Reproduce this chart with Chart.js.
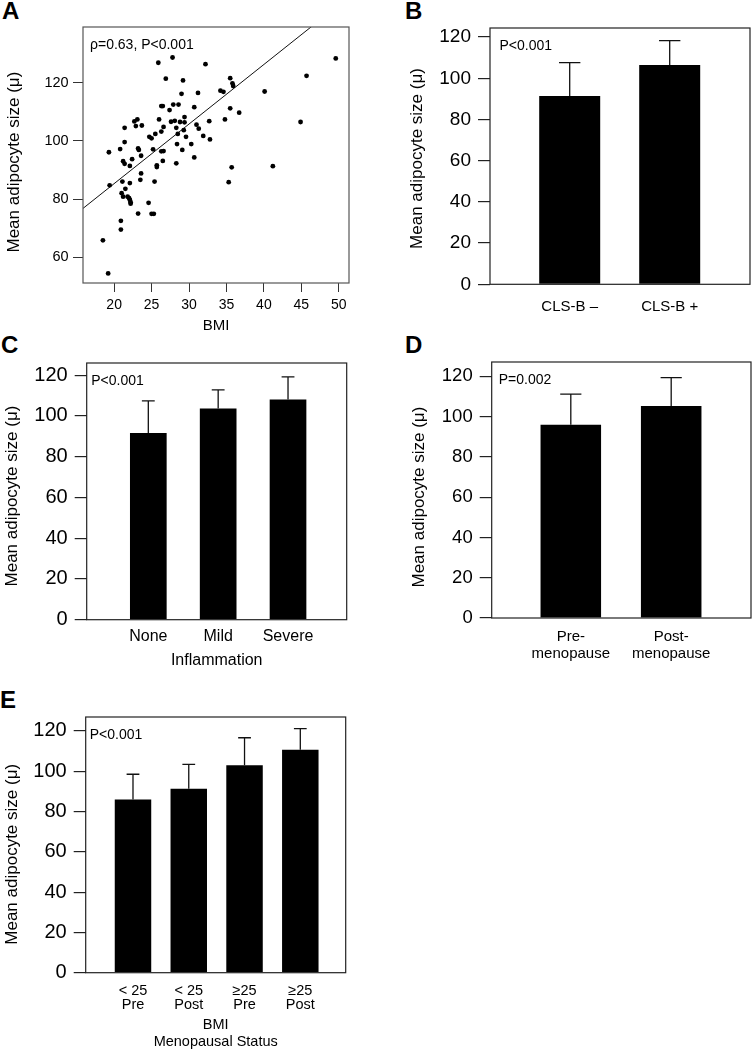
<!DOCTYPE html>
<html>
<head>
<meta charset="utf-8">
<script src="https://cdn.jsdelivr.net/npm/chart.js@4.4.1/dist/chart.umd.min.js"></script>
<style>
  body { margin: 0; background: #fff; width: 752px; height: 1050px; position: relative; overflow: hidden; }
  canvas { position: absolute; }
  .tag { position: absolute; font: bold 24px/24px 'Liberation Sans', Arial, sans-serif; color: #000; }
</style>
</head>
<body>
<div class="tag" style="left:2px;top:-1px">A</div>
<div class="tag" style="left:405px;top:-1px">B</div>
<div class="tag" style="left:1px;top:333px">C</div>
<div class="tag" style="left:405px;top:333px">D</div>
<div class="tag" style="left:0px;top:688px">E</div>

<canvas id="chartA" width="353" height="330" style="left:0;top:5px"></canvas>
<canvas id="chartB" width="347" height="313" style="left:405px;top:6px"></canvas>
<canvas id="chartC" width="350" height="329" style="left:0;top:341px"></canvas>
<canvas id="chartD" width="345" height="326" style="left:407px;top:340px"></canvas>
<canvas id="chartE" width="349" height="355" style="left:0;top:695px"></canvas>

<script>
// ---- data ----
const yTitle = 'Mean adipocyte size (μ)';

// panel A: BMI vs mean adipocyte size
const bmiA = [18.5, 19.2, 19.3, 19.4, 20.8, 21.1, 21.2, 21.4, 21.4, 21.4, 21.5, 21.0, 21.2, 20.9, 20.9, 21.8,
  22.0, 22.1, 22.2, 22.2, 22.1, 22.1, 22.4, 22.7, 23.1, 22.9, 23.7, 23.2, 23.3, 23.6, 23.6, 23.5, 23.2,
  24.6, 25.0, 25.3, 24.7, 25.0, 25.2, 25.5, 25.4, 25.7, 25.7, 25.9, 26.0, 26.3, 26.5, 26.3, 26.6, 26.3,
  26.6, 26.5, 26.9, 27.4, 27.6, 27.9, 28.1, 27.8, 28.3, 28.5, 28.4, 28.3, 28.6, 28.8, 29.0, 29.2, 29.4,
  29.4, 29.3, 29.6, 29.1, 30.3, 30.7, 31.0, 31.3, 31.2, 30.7, 31.9, 32.2, 32.7, 32.8, 34.2, 34.6, 34.8,
  35.3, 35.5, 35.5, 35.7, 35.8, 35.9, 36.7, 40.1, 41.2, 44.9, 45.7, 49.6];
const sizeA = [65.8, 54.4, 96.1, 84.7, 97.2, 86.0, 93.0, 99.6, 104.5, 92.1, 83.5, 82.0, 80.8, 72.5, 69.5, 80.8,
  80.3, 79.7, 78.9, 78.4, 85.5, 91.4, 93.7, 106.7, 107.4, 105.1, 105.3, 97.4, 96.9, 94.9, 88.8, 86.6, 75.0,
  78.7, 74.9, 74.9, 101.4, 100.9, 97.1, 102.4, 86.0, 91.6, 91.0, 126.9, 107.4, 112.0, 112.0, 103.2, 104.8, 96.4,
  96.5, 93.1, 121.4, 110.6, 106.6, 112.5, 106.9, 128.7, 104.5, 102.4, 98.9, 92.3, 112.5, 106.5, 116.2, 120.8, 106.4,
  108.2, 103.7, 101.4, 96.9, 98.9, 111.6, 105.6, 104.2, 116.5, 94.3, 101.7, 126.4, 106.8, 100.5, 117.3, 116.9, 107.4,
  85.8, 111.2, 121.6, 90.9, 119.8, 118.9, 109.7, 117.0, 91.3, 106.5, 122.4, 128.4];
const fitIntercept = 44.3;
const fitSlope = 2.05;
const scatterXTicks = [20, 25, 30, 35, 40, 45, 50];
const scatterYTicks = [60, 80, 100, 120];

// panel B: crown-like structures
const clsLabels = ['CLS-B –', 'CLS-B +'];
const clsMeans = [91.4, 106.5];
const clsUpper = [107.6, 118.3];

// panel C: inflammation
const inflLabels = ['None', 'Mild', 'Severe'];
const inflMeans = [91.7, 103.7, 108.1];
const inflUpper = [107.4, 112.8, 119.2];

// panel D: menopausal status
const menoLabels = [['Pre-', 'menopause'], ['Post-', 'menopause']];
const menoMeans = [95.9, 105.2];
const menoUpper = [111.2, 119.3];

// panel E: BMI x menopausal status
const groupLabels = [['< 25', 'Pre'], ['< 25', 'Post'], ['≥25', 'Pre'], ['≥25', 'Post']];
const groupMeans = [85.9, 91.3, 102.9, 110.7];
const groupUpper = [98.5, 103.4, 116.6, 121.1];

const barTicks = [0, 20, 40, 60, 80, 100, 120];

Chart.defaults.font.family = "'Liberation Sans', Arial, sans-serif";
Chart.defaults.color = '#000';

// box around the plotting area
const frame = {
  id: 'frame',
  afterDatasetsDraw(chart, args, opts) {
    const { ctx, chartArea: a } = chart;
    ctx.save();
    ctx.strokeStyle = opts.color || '#222';
    ctx.lineWidth = 1.2;
    ctx.strokeRect(a.left, a.top, a.right - a.left, a.bottom - a.top);
    ctx.restore();
  }
};

// one-sided (upper) error bars on top of the bars
const errorBars = {
  id: 'errorBars',
  afterDatasetsDraw(chart, args, opts) {
    if (!opts.values) return;
    const ctx = chart.ctx;
    const y = chart.scales.y;
    const meta = chart.getDatasetMeta(0);
    ctx.save();
    ctx.strokeStyle = '#111';
    ctx.lineWidth = 1.3;
    meta.data.forEach(function (bar, i) {
      const top = y.getPixelForValue(opts.values[i]);
      const half = bar.width * opts.cap / 2;
      ctx.beginPath();
      ctx.moveTo(bar.x, bar.y);
      ctx.lineTo(bar.x, top);
      ctx.moveTo(bar.x - half, top);
      ctx.lineTo(bar.x + half, top);
      ctx.stroke();
    });
    ctx.restore();
  }
};

// statistics note in the upper left corner
const note = {
  id: 'note',
  afterDatasetsDraw(chart, args, opts) {
    if (!opts.text) return;
    const { ctx, chartArea: a } = chart;
    ctx.save();
    ctx.font = "14px 'Liberation Sans', Arial, sans-serif";
    ctx.fillStyle = '#000';
    ctx.textBaseline = 'middle';
    ctx.fillText(opts.text, a.left + opts.dx, a.top + 18);
    ctx.restore();
  }
};

// trailing blanks nudge the rotated title a little lower, like the original
function yTitleOpts(pad, nudge) {
  return { display: true, text: yTitle + ' '.repeat(nudge), font: { size: 17 }, padding: { top: pad, bottom: 0 }, color: '#000' };
}

function barPanel(id, o) {
  return new Chart(document.getElementById(id), {
    type: 'bar',
    data: {
      datasets: [{
        data: o.means.map((v, i) => ({ x: i, y: v })),
        backgroundColor: '#000',
        borderWidth: 0,
        categoryPercentage: 1,
        barPercentage: o.barPct
      }]
    },
    options: {
      responsive: false,
      animation: false,
      events: [],
      layout: { padding: { top: 22, right: o.padR, left: 0, bottom: 0 } },
      plugins: {
        legend: { display: false },
        tooltip: { enabled: false },
        errorBars: { values: o.upper, cap: 0.35 },
        note: { text: o.note, dx: o.noteDx },
        frame: { color: '#222' }
      },
      scales: {
        x: {
          type: 'linear',
          offset: false,
          min: o.xMin,
          max: o.xMax,
          afterBuildTicks: s => { s.ticks = o.labels.map((l, i) => ({ value: i })); },
          afterFit: s => { s.height = o.xh; },
          ticks: {
            autoSkip: false,
            maxRotation: 0,
            padding: o.labPad,
            font: { size: o.labSize, lineHeight: o.labLH },
            callback: v => o.labels[v]
          },
          grid: { display: false, drawTicks: false },
          border: { display: false },
          title: o.xTitle
            ? { display: true, text: o.xTitle, font: { size: o.titleSize, lineHeight: o.titleLH }, padding: { top: 0, bottom: 0 } }
            : { display: false }
        },
        y: {
          min: 0,
          max: o.yMax,
          afterBuildTicks: s => { s.ticks = barTicks.map(v => ({ value: v })); },
          afterFit: s => { s.width = o.yw; },
          ticks: { padding: 7, font: { size: o.tickSize } },
          grid: { drawOnChartArea: false, tickLength: 12, color: '#222', lineWidth: 1.2 },
          border: { display: false },
          title: yTitleOpts(2, o.nudge)
        }
      }
    },
    plugins: [errorBars, frame, note]
  });
}

// ---- panel A: scatter with regression line ----
const xMinA = 15.84, xMaxA = 51.37;
new Chart(document.getElementById('chartA'), {
  type: 'scatter',
  data: {
    datasets: [
      {
        data: bmiA.map((b, i) => ({ x: b, y: sizeA[i] })),
        pointRadius: 2.4,
        pointBackgroundColor: '#000',
        pointBorderWidth: 0
      },
      {
        type: 'line',
        showLine: true,
        data: [xMinA, xMaxA].map(x => ({ x: x, y: fitIntercept + fitSlope * x })),
        borderColor: '#111',
        borderWidth: 1,
        pointRadius: 0
      }
    ]
  },
  options: {
    responsive: false,
    animation: false,
    events: [],
    layout: { padding: { top: 22, right: 3, left: 0, bottom: 0 } },
    plugins: {
      legend: { display: false },
      tooltip: { enabled: false },
      note: { text: 'ρ=0.63, P<0.001', dx: 7 },
      frame: { color: '#555' }
    },
    scales: {
      x: {
        min: xMinA,
        max: xMaxA,
        afterBuildTicks: s => { s.ticks = scatterXTicks.map(v => ({ value: v })); },
        afterFit: s => { s.height = 52; },
        ticks: { padding: 4.3, font: { size: 14 } },
        grid: { drawOnChartArea: false, tickLength: 9, color: '#333' },
        border: { display: false },
        title: { display: true, text: 'BMI', font: { size: 15 }, padding: { top: 0, bottom: 0 } }
      },
      y: {
        min: 51.1,
        max: 139.2,
        afterBuildTicks: s => { s.ticks = scatterYTicks.map(v => ({ value: v })); },
        afterFit: s => { s.width = 83; },
        ticks: { padding: 4.4, font: { size: 14.5 } },
        grid: { drawOnChartArea: false, tickLength: 10, color: '#333' },
        border: { display: false },
        title: yTitleOpts(4, 3)
      }
    }
  },
  plugins: [frame, note]
});

// ---- panels B to E: bar charts ----
barPanel('chartB', {
  labels: clsLabels, means: clsMeans, upper: clsUpper,
  xMin: -0.797, xMax: 1.803, barPct: 0.61, yMax: 124.4,
  yw: 85, xh: 34.7, padR: 2, tickSize: 19, nudge: 1,
  labPad: 13.4, labSize: 15, labLH: 1.2,
  note: 'P<0.001', noteDx: 9.5
});

barPanel('chartC', {
  labels: inflLabels, means: inflMeans, upper: inflUpper,
  xMin: -0.882, xMax: 2.84, barPct: 0.525, yMax: 126,
  yw: 86.7, xh: 50.3, padR: 3.3, tickSize: 20, nudge: 2,
  labPad: 7.4, labSize: 16, labLH: 1.2,
  xTitle: 'Inflammation', titleSize: 16, titleLH: 1.2,
  note: 'P<0.001', noteDx: 4.5
});

barPanel('chartD', {
  labels: menoLabels, means: menoMeans, upper: menoUpper,
  xMin: -0.788, xMax: 1.795, barPct: 0.603, yMax: 127.1,
  yw: 84.7, xh: 48, padR: 1, tickSize: 18.5, nudge: 3,
  labPad: 9.9, labSize: 15, labLH: 1.17,
  note: 'P=0.002', noteDx: 7
});

barPanel('chartE', {
  labels: groupLabels, means: groupMeans, upper: groupUpper,
  xMin: -0.848, xMax: 3.814, barPct: 0.654, yMax: 126.9,
  yw: 85.7, xh: 77.3, padR: 3.3, tickSize: 20, nudge: 4,
  labPad: 11, labSize: 14.5, labLH: 1.0,
  xTitle: ['BMI', 'Menopausal Status'], titleSize: 14.5, titleLH: 1.15,
  note: 'P<0.001', noteDx: 4
});
</script>
</body>
</html>
